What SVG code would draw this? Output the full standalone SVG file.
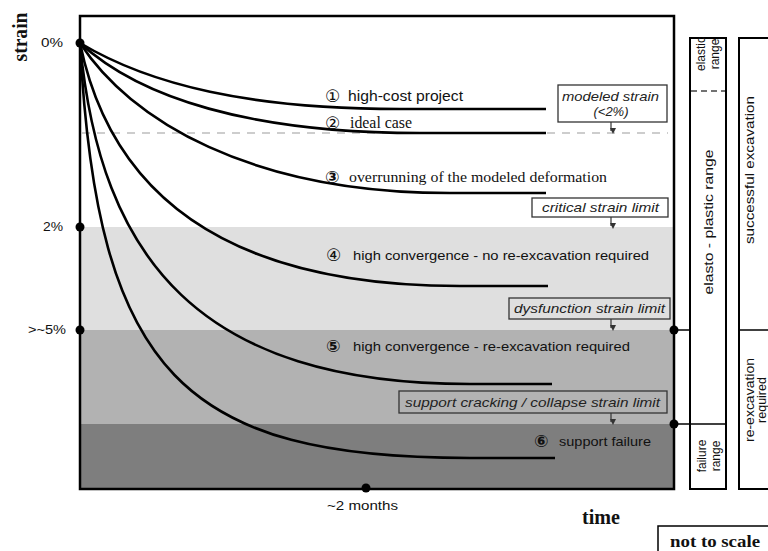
<svg xmlns="http://www.w3.org/2000/svg" width="768" height="551" viewBox="0 0 768 551">
<style>
.sans{font-family:"Liberation Sans",Arial,sans-serif;fill:#111}
.serif{font-family:"Liberation Serif","Times New Roman",serif;fill:#111}
.it{font-family:"Liberation Sans",Arial,sans-serif;font-style:italic;fill:#222;font-size:13px}
.curve{fill:none;stroke:#000;stroke-width:2.6}
.frame{fill:none;stroke:#000;stroke-width:2.5}
.col{fill:none;stroke:#000;stroke-width:2}
.lbox{fill:none;stroke:#333;stroke-width:1.3}
.arr{stroke:#333;stroke-width:1.2;marker-end:url(#ah)}
.num{font-family:"DejaVu Sans","Noto Sans CJK SC",sans-serif;fill:#111}
</style>
<defs>
<marker id="ah" viewBox="0 0 6 6" refX="3" refY="5" markerWidth="6" markerHeight="6" markerUnits="userSpaceOnUse" orient="auto-start-reverse">
<path d="M0,0 L6,0 L3,6 Z" fill="#333" transform="rotate(-90 3 3)"/>
</marker>
</defs>
<rect width="768" height="551" fill="#fff"/>

<g id="bands">
<rect x="80" y="227" width="594" height="103" fill="#dfdfdf"/>
<rect x="80" y="330" width="594" height="94" fill="#b2b2b2"/>
<rect x="80" y="424" width="594" height="65" fill="#7e7e7e"/>
<line x1="82" y1="133" x2="668" y2="133" stroke="#bdbdbd" stroke-width="1.3" stroke-dasharray="8 7"/>
</g>

<g id="connectors">
<path class="curve" d="M80,43 C150,85 250,109 400,109 L546,109"/>
<path class="curve" d="M80,43 C140,98 250,133 420,133 L546,133"/>
<path class="curve" d="M80,43 C130,120 250,193 450,193 L546,193"/>
<path class="curve" d="M80,43 C110,190 220,286 460,286 L548,286"/>
<path class="curve" d="M80,43 C100,260 200,384 470,384 L552,384"/>
<path class="curve" d="M80,43 C97,375 185,458 470,458 L555,458"/>
<line class="arr" x1="611" y1="122" x2="611" y2="131"/>
<line class="arr" x1="611" y1="217" x2="611" y2="226"/>
<line class="arr" x1="611" y1="319" x2="611" y2="328"/>
<line class="arr" x1="611" y1="413" x2="611" y2="422"/>
<line x1="674" y1="330" x2="690" y2="330" stroke="#000" stroke-width="1.5"/>
<line x1="674" y1="424" x2="726" y2="424" stroke="#000" stroke-width="1.5"/>
<line x1="739" y1="330" x2="770" y2="330" stroke="#000" stroke-width="1.5"/>
</g>

<g id="plot-frame">
<rect class="frame" x="80" y="16" width="594" height="473"/>
<circle cx="80" cy="43" r="4.5" fill="#000"/>
<circle cx="80" cy="227" r="4.5" fill="#000"/>
<circle cx="80" cy="330" r="4.5" fill="#000"/>
<circle cx="674" cy="330" r="4.5" fill="#000"/>
<circle cx="674" cy="424" r="4.5" fill="#000"/>
<circle cx="366" cy="488" r="4.5" fill="#000"/>
</g>

<g id="axis-labels">
<text class="serif" font-size="20" font-weight="bold" transform="translate(27,37) rotate(-90)" text-anchor="middle" textLength="49" lengthAdjust="spacingAndGlyphs">strain</text>
<text class="sans" font-size="12" x="41" y="47" textLength="22" lengthAdjust="spacingAndGlyphs">0%</text>
<text class="sans" font-size="12" x="43" y="231" textLength="20" lengthAdjust="spacingAndGlyphs">2%</text>
<text class="sans" font-size="12" x="28" y="334" textLength="38" lengthAdjust="spacingAndGlyphs">&gt;~5%</text>
<text class="sans" font-size="12" x="327" y="510" textLength="71" lengthAdjust="spacingAndGlyphs">~2 months</text>
<text class="serif" font-size="20" font-weight="bold" x="582" y="524" textLength="38" lengthAdjust="spacingAndGlyphs">time</text>
</g>

<g id="curve-labels">
<text class="num" font-size="17" x="325" y="102">①</text>
<text class="sans" font-size="14" x="348" y="101" textLength="115" lengthAdjust="spacingAndGlyphs">high-cost project</text>
<text class="num" font-size="17" x="325" y="129">②</text>
<text class="serif" font-size="16" x="350" y="128" textLength="62" lengthAdjust="spacingAndGlyphs">ideal case</text>
<text class="num" font-size="17" font-weight="bold" x="325" y="183">③</text>
<text class="serif" font-size="15" x="349" y="182" textLength="258" lengthAdjust="spacingAndGlyphs">overrunning of the modeled deformation</text>
<text class="num" font-size="17" x="326" y="261">④</text>
<text class="sans" font-size="13" x="353" y="260" textLength="296" lengthAdjust="spacingAndGlyphs">high convergence - no re-excavation required</text>
<text class="num" font-size="17" font-weight="bold" x="326" y="352">⑤</text>
<text class="sans" font-size="13" x="353" y="351" textLength="277" lengthAdjust="spacingAndGlyphs">high convergence - re-excavation required</text>
<text class="num" font-size="17" font-weight="bold" x="534" y="447">⑥</text>
<text class="sans" font-size="13" x="559" y="446" textLength="92" lengthAdjust="spacingAndGlyphs">support failure</text>
</g>

<g id="limit-modeled">
<rect class="lbox" x="558" y="85" width="109" height="37" fill="#fff"/>
<text class="it" x="562" y="101" textLength="97" lengthAdjust="spacingAndGlyphs">modeled strain</text>
<text class="it" x="611" y="116" text-anchor="middle">(&lt;2%)</text>
</g>
<g id="limit-critical">
<rect class="lbox" x="532" y="198" width="136" height="19" fill="#fff"/>
<text class="it" x="542" y="212" textLength="117" lengthAdjust="spacingAndGlyphs">critical strain limit</text>
</g>
<g id="limit-dysfunction">
<rect class="lbox" x="509" y="298" width="161" height="21"/>
<text class="it" x="514" y="313" textLength="151" lengthAdjust="spacingAndGlyphs">dysfunction strain limit</text>
</g>
<g id="limit-collapse">
<rect class="lbox" x="399" y="391" width="268" height="22"/>
<text class="it" x="405" y="407" textLength="255" lengthAdjust="spacingAndGlyphs">support cracking / collapse strain limit</text>
</g>

<g id="range-column">
<rect class="col" x="690" y="38" width="36" height="451"/>
<line x1="691" y1="91" x2="725" y2="91" stroke="#444" stroke-width="1.5" stroke-dasharray="6 4"/>
<text class="sans" font-size="12" transform="translate(705,54) rotate(-90)" text-anchor="middle">elastic</text>
<text class="sans" font-size="12" transform="translate(719,54) rotate(-90)" text-anchor="middle">range</text>
<text class="sans" font-size="13" transform="translate(713,222) rotate(-90)" text-anchor="middle" textLength="145" lengthAdjust="spacingAndGlyphs">elasto - plastic range</text>
<text class="sans" font-size="12" transform="translate(706,456) rotate(-90)" text-anchor="middle">failure</text>
<text class="sans" font-size="12" transform="translate(720,456) rotate(-90)" text-anchor="middle">range</text>
</g>

<g id="outcome-column">
<rect class="col" x="739" y="38" width="40" height="451"/>
<text class="sans" font-size="13" transform="translate(754,170) rotate(-90)" text-anchor="middle" textLength="148" lengthAdjust="spacingAndGlyphs">successful excavation</text>
<text class="sans" font-size="12.5" transform="translate(754,400) rotate(-90)" text-anchor="middle" textLength="84" lengthAdjust="spacingAndGlyphs">re-excavation</text>
<text class="sans" font-size="12.5" transform="translate(766,400) rotate(-90)" text-anchor="middle">required</text>
</g>

<g id="scale-note">
<rect x="658" y="526" width="120" height="40" fill="none" stroke="#000" stroke-width="1.5"/>
<text class="serif" font-size="16" font-weight="bold" x="670" y="547" textLength="90" lengthAdjust="spacingAndGlyphs">not to scale</text>
</g>
</svg>
